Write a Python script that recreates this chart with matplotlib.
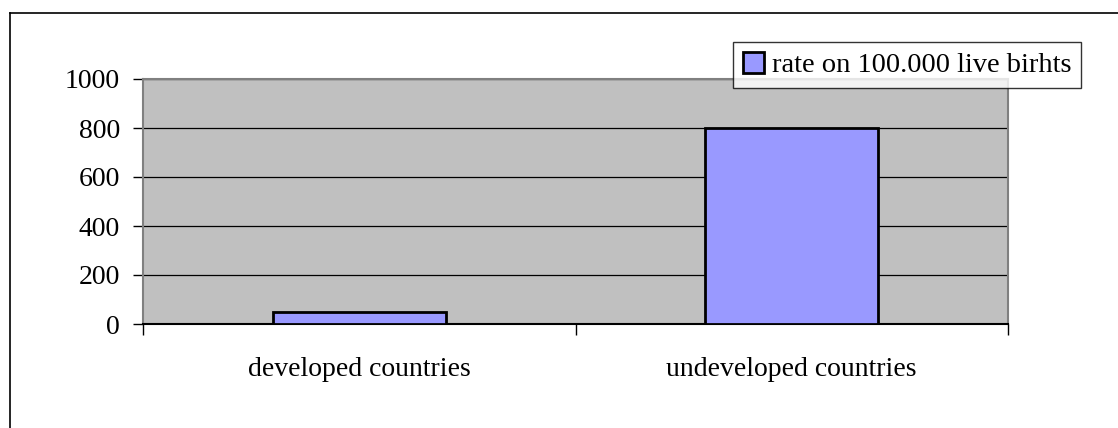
import matplotlib.pyplot as plt
from matplotlib.lines import Line2D

categories = ["developed countries", "undeveloped countries"]
rates = [50, 800]
series_label = "rate on 100.000 live birhts"
yticks = [0, 200, 400, 600, 800, 1000]

plt.rcParams['font.family'] = ['Liberation Serif', 'DejaVu Serif']

W, H = 1118, 428
fig = plt.figure(figsize=(W / 100, H / 100), dpi=100)

# outer chart border (left + top, runs off the image)
fig.add_artist(Line2D([10 / W, 10 / W], [0, 1 - 13 / H], color="black", lw=1.2))
fig.add_artist(Line2D([10 / W, 1], [1 - 13 / H, 1 - 13 / H], color="black", lw=1.2))

ax = fig.add_axes([143 / W, 104 / H, 865 / W, 245 / H])
ax.set_facecolor("#C0C0C0")

x = list(range(len(categories)))
ax.bar(x, rates, width=0.4, color="#9999FF", edgecolor="black", linewidth=2,
       label=series_label, zorder=3)

ax.set_xlim(-0.5, len(categories) - 0.5)
ax.set_ylim(0, 1000)
ax.set_yticks(yticks)
ax.set_yticklabels([str(v) for v in yticks], fontsize=20)
ax.yaxis.grid(True, color="black", lw=0.9, zorder=1)
ax.set_axisbelow(True)

ax.set_xticks(x)
ax.set_xticklabels(categories, fontsize=20)
ax.set_xticks([-0.5, 0.5, 1.5], minor=True)
ax.tick_params(axis="x", which="major", length=0, pad=24)
ax.tick_params(axis="x", which="minor", length=8, width=1, color="black")
ax.tick_params(axis="y", length=7.5, width=1, pad=9, color="black")

for s in ["left", "top", "right"]:
    ax.spines[s].set_color("#808080")
    ax.spines[s].set_linewidth(1.5)
ax.spines["bottom"].set_color("black")
ax.spines["bottom"].set_linewidth(1.5)

leg = fig.legend(loc="upper right", bbox_to_anchor=(1081 / W, 1 - 42 / H),
                 fontsize=20.5, frameon=True, fancybox=False, borderpad=0.35,
                 handlelength=0.75, handleheight=0.75, handletextpad=0.25,
                 borderaxespad=0)
leg.get_frame().set_edgecolor("black")
leg.get_frame().set_linewidth(1)
leg.set_zorder(5)

fig.savefig("out.png", dpi=100)
